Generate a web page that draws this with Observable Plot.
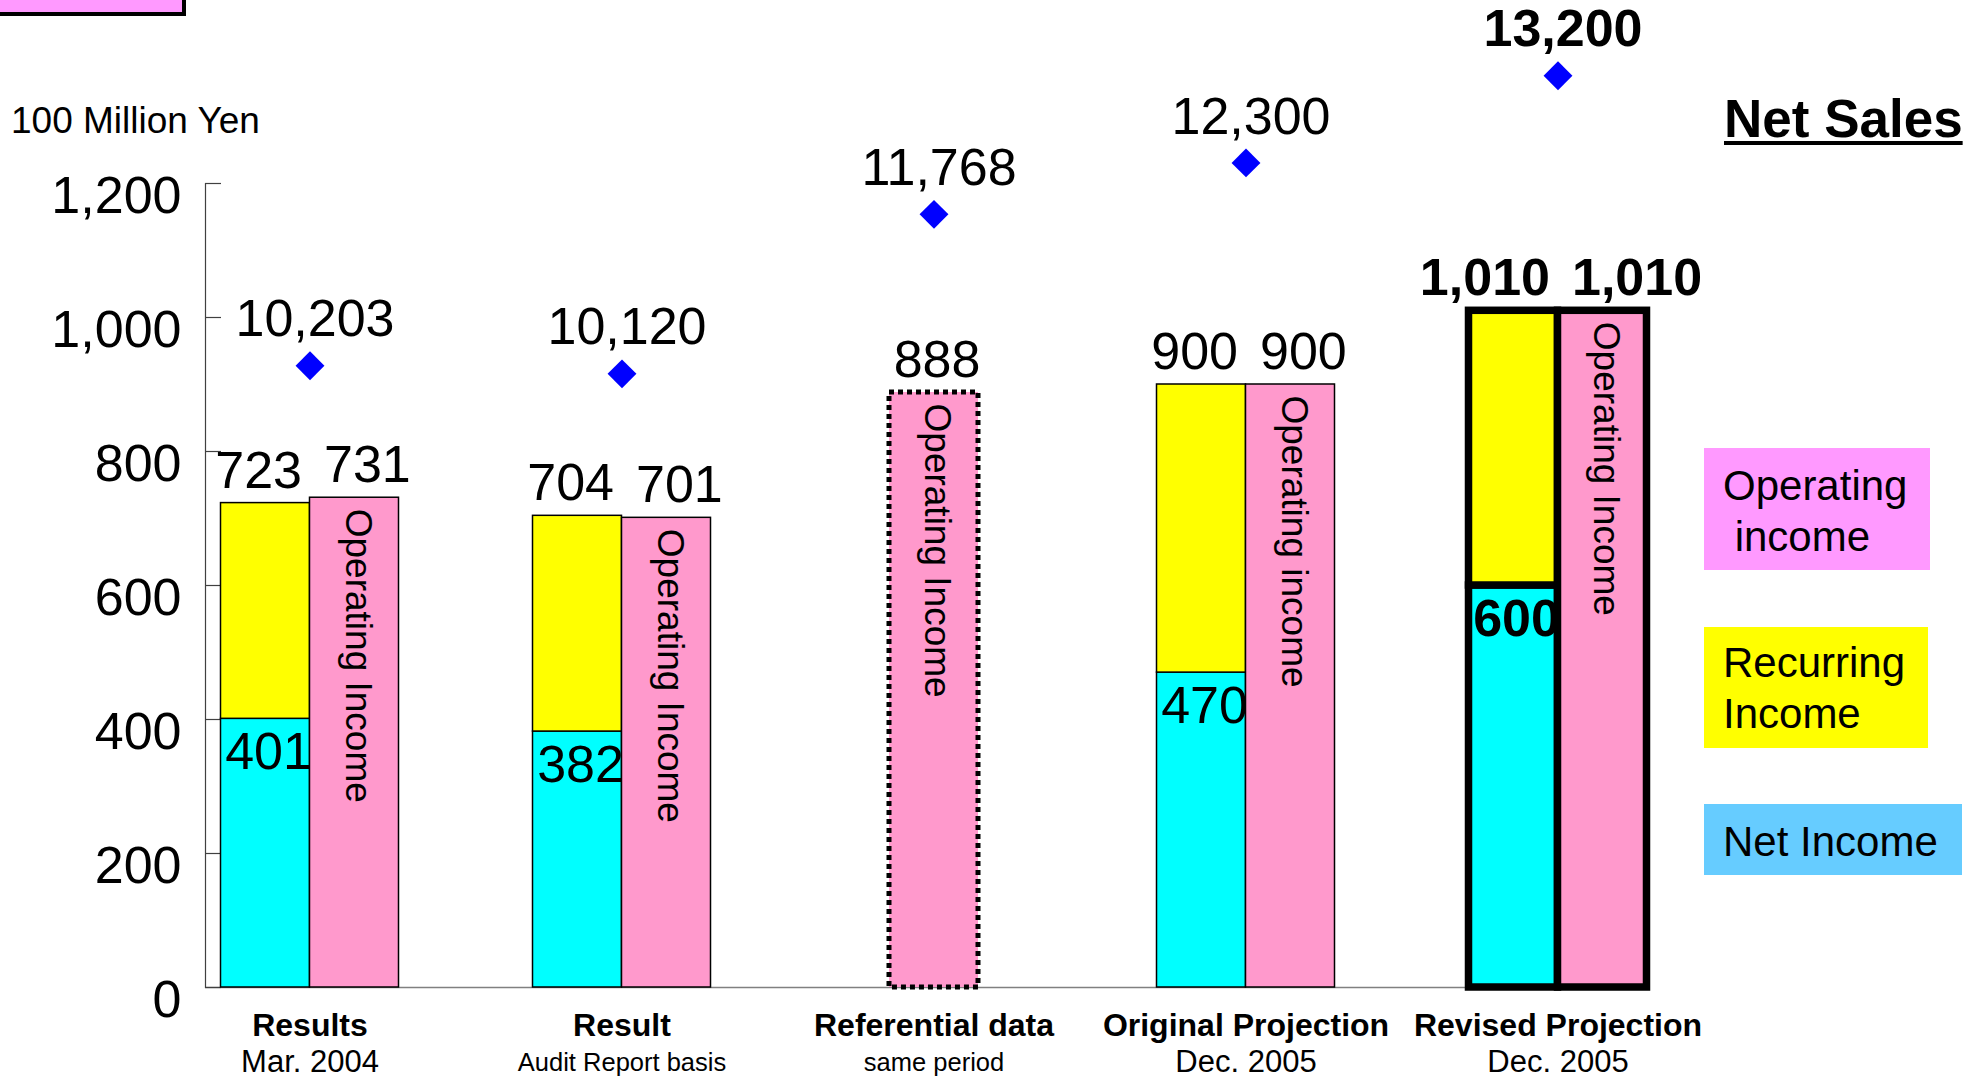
<!DOCTYPE html>
<html>
<head>
<meta charset="utf-8">
<script src="https://cdn.jsdelivr.net/npm/d3@7"></script>
<script src="https://cdn.jsdelivr.net/npm/@observablehq/plot@0.6"></script>
<style>
  html, body { margin: 0; padding: 0; background: #fff; }
  body { width: 1984px; height: 1078px; position: relative; overflow: hidden;
         font-family: "Liberation Sans", Arial, sans-serif; color: #000; }
  #chart { position: absolute; left: 0; top: 0; }
  .abs { position: absolute; white-space: pre; }
  #corner { left: -10px; top: -60px; width: 196px; height: 76px; box-sizing: border-box;
            border: 4px solid #000; background: #FF99FF; }
  #unit { left: 11px; top: 102px; font-size: 37px; line-height: 37px; }
  #title { left: 1724px; top: 92px; font-size: 53px; line-height: 53px; font-weight: bold;
           text-decoration: underline; text-decoration-thickness: 3.5px; text-underline-offset: 4px; }
  .leg { position: absolute; box-sizing: border-box; font-size: 42px; line-height: 51px;
         white-space: pre; padding-left: 19px; }
  .leg0 { left: 1704px; top: 448px; width: 226px; height: 122px; padding-top: 12px; background: #FF99FF; }
  .leg1 { left: 1704px; top: 627px; width: 224px; height: 121px; padding-top: 10px; background: #FFFF00; }
  .leg2 { left: 1704px; top: 804px; width: 258px; height: 71px; padding-top: 12px; background: #66CCFF; }
</style>
</head>
<body>
<div id="chart"></div>
<div class="abs" id="corner"></div>
<div class="abs" id="unit">100 Million Yen</div>
<div class="abs" id="title">Net Sales</div>
<div id="legend"></div>
<script>
// ---------------- data ----------------
const categories = ["Results", "Result", "Referential data", "Original Projection", "Revised Projection"];
const subLabels = ["Mar. 2004", "Audit Report basis", "same period", "Dec. 2005", "Dec. 2005"];
const netSales = [10203, 10120, 11768, 12300, 13200];
const operatingIncome = [731, 701, 888, 900, 1010];
const recurringIncome = [723, 704, null, 900, 1010];
const netIncome = [401, 382, null, 470, 600];
const operatingLabels = ["Operating Income", "Operating Income", "Operating Income", "Operating income", "Operating Income"];
const yTicks = [0, 200, 400, 600, 800, 1000, 1200];
const legendLabels = ["Operating\n income", "Recurring\nIncome", "Net Income"];

const rows = categories.map((cat, i) => ({
  cat, sub: subLabels[i], sales: netSales[i], op: operatingIncome[i],
  rec: recurringIncome[i], net: netIncome[i], opLabel: operatingLabels[i]
}));

// ---------------- styling / layout ----------------
const EMPH = "Revised Projection";
const isEmph = d => d.cat === EMPH;
const paired = d => d.rec != null;
const fmt = d3.format(",");

const CYAN = "#00FFFF", YELLOW = "#FFFF00", PINK = "#FF99CC", BLUE = "#0000FF";
const W = 1984, H = 1078, ML = 205, MT = 183, MB = 91;
const PAIR = 178, HALF = PAIR / 2, STEP = 312, FIRST = 309.5;
const padInner = 1 - PAIR / STEP;
const padOuter = (FIRST - HALF - ML) / STEP;
const plotRight = ML + STEP * (categories.length - padInner + 2 * padOuter);
const MR = W - plotRight;
const FS = 52;

// hidden secondary axis for net sales, mapped onto the primary y range
const Y_DOMAIN = [0, 1200];
const SALES_DOMAIN = [3778, 12087];
const salesY = s => (s - SALES_DOMAIN[0]) / (SALES_DOMAIN[1] - SALES_DOMAIN[0]) * (Y_DOMAIN[1] - Y_DOMAIN[0]) + Y_DOMAIN[0];

const strokeW = d => isEmph(d) ? 7.5 : 1.5;

function textPair(data, opts) {
  return [
    Plot.text(data.filter(d => !isEmph(d)), opts),
    Plot.text(data.filter(isEmph), {...opts, fontWeight: "bold"})
  ];
}

const pairedRows = rows.filter(paired);
const soloRows = rows.filter(d => !paired(d));

const chart = Plot.plot({
  width: W, height: H,
  marginLeft: ML, marginRight: MR, marginTop: MT, marginBottom: MB,
  style: {fontFamily: "'Liberation Sans', Arial, sans-serif", color: "#000", background: "transparent", overflow: "visible"},
  x: {type: "band", domain: categories, paddingInner: padInner, paddingOuter: padOuter, round: false, axis: null},
  y: {domain: Y_DOMAIN},
  marks: [
    Plot.ruleY([0], {stroke: "#808080", strokeWidth: 1.5, insetRight: 16}),
    Plot.frame({anchor: "left", stroke: "#404040", strokeWidth: 1.2}),
    Plot.axisY(yTicks, {tickSize: 16, dx: 16, fill: "none", stroke: "#404040", strokeWidth: 1.2, label: null}),
    Plot.axisY(yTicks, {tickSize: 0, tickPadding: 24, dy: 13, fontSize: FS, fill: "#000", tickFormat: fmt, label: null}),

    // stacked: net income (cyan) + recurring income (yellow)
    Plot.barY(pairedRows, {x: "cat", y1: 0, y2: "net", insetRight: HALF, fill: CYAN, stroke: "#000", strokeWidth: strokeW}),
    Plot.barY(pairedRows, {x: "cat", y1: "net", y2: "rec", insetRight: HALF, fill: YELLOW, stroke: "#000", strokeWidth: strokeW}),
    // operating income (pink)
    Plot.barY(pairedRows, {x: "cat", y1: 0, y2: "op", insetLeft: HALF, fill: PINK, stroke: "#000", strokeWidth: strokeW}),
    Plot.barY(soloRows, {x: "cat", y1: 0, y2: "op", insetLeft: HALF / 2, insetRight: HALF / 2, fill: PINK,
                          stroke: "#000", strokeWidth: 5, strokeDasharray: "5,4"}),

    // rotated labels in pink bars
    Plot.text(pairedRows, {x: "cat", y: "op", text: "opLabel", rotate: 90, textAnchor: "start", dx: HALF / 2 + 3, dy: 11, fontSize: 37}),
    Plot.text(soloRows, {x: "cat", y: "op", text: "opLabel", rotate: 90, textAnchor: "start", dx: 3, dy: 11, fontSize: 37}),

    // value labels
    ...textPair(pairedRows, {x: "cat", y: "rec", text: d => fmt(d.rec), textAnchor: "end", dx: -8, dy: -32, fontSize: FS}),
    ...textPair(pairedRows, {x: "cat", y: "op", text: d => fmt(d.op), textAnchor: "start", dx: 14, dy: -32, fontSize: FS}),
    ...textPair(soloRows, {x: "cat", y: "op", text: d => fmt(d.op), textAnchor: "middle", dx: 3, dy: -32, fontSize: FS}),
    ...textPair(pairedRows, {x: "cat", y: "net", text: d => fmt(d.net), textAnchor: "middle", dx: -HALF / 2 + 3, dy: 33.5, fontSize: FS}),

    // net sales diamonds (secondary axis)
    Plot.dot(rows, {x: "cat", y: d => salesY(d.sales), symbol: "diamond2", r: 13, fill: BLUE, stroke: null}),
    ...textPair(rows, {x: "cat", y: d => salesY(d.sales), text: d => fmt(d.sales), dx: 5, dy: -46, fontSize: FS}),

    // category labels
    Plot.text(rows, {x: "cat", text: "cat", frameAnchor: "bottom", lineAnchor: "middle", dy: 38, fontWeight: "bold", fontSize: 32}),
    Plot.text(rows, {x: "cat", text: "sub", frameAnchor: "bottom", lineAnchor: "middle", dy: 75, fontSize: d => /\d{4}/.test(d.sub) ? 31 : 25.5})
  ]
});
document.getElementById("chart").appendChild(chart);

// legend
const legend = document.getElementById("legend");
legendLabels.forEach((label, i) => {
  const div = document.createElement("div");
  div.className = "leg leg" + i;
  div.textContent = label;
  legend.appendChild(div);
});
</script>
</body>
</html>
